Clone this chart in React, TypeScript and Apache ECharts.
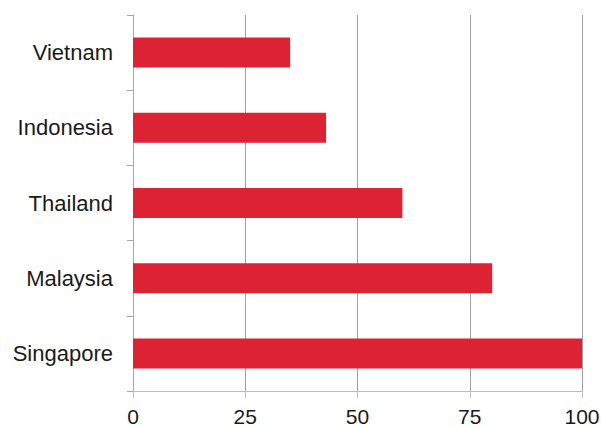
import React, { useEffect, useRef } from "react";
import * as echarts from "echarts";

const categories = ["Singapore", "Malaysia", "Thailand", "Indonesia", "Vietnam"];
const values = [100, 80, 60, 43, 35];
const xTicks = [0, 25, 50, 75, 100];

const FONT = "'Liberation Sans', Arial, sans-serif";

export default function App() {
  const ref = useRef<HTMLDivElement>(null);
  useEffect(() => {
    document.body.style.margin = "0";
    const chart = echarts.init(ref.current!, null, { renderer: "svg" });
    chart.setOption({
      animation: false,
      backgroundColor: "#ffffff",
      textStyle: { fontFamily: FONT },
      grid: { left: 133, right: 19, top: 15, bottom: 36, containLabel: false, outerBoundsMode: "none" },
      xAxis: {
        type: "value",
        min: xTicks[0],
        max: xTicks[xTicks.length - 1],
        interval: 25,
        axisLine: { show: true, lineStyle: { color: "#bdbdbd", width: 1 } },
        axisTick: { show: true, length: 7, lineStyle: { color: "#bdbdbd" } },
        splitLine: { show: true, lineStyle: { color: "#a0a0a0", width: 1 } },
        axisLabel: { fontSize: 21, lineHeight: 19, color: "#1a1a1a", margin: 16, fontFamily: FONT },
      },
      yAxis: {
        type: "category",
        data: categories,
        axisLine: { show: true, lineStyle: { color: "#a8a8a8", width: 1 } },
        axisTick: { show: true, length: 6, lineStyle: { color: "#a8a8a8" } },
        axisLabel: { fontSize: 22, color: "#1a1a1a", margin: 20, fontFamily: FONT },
        splitLine: { show: false },
      },
      series: [
        {
          type: "bar",
          data: values,
          barWidth: 30,
          itemStyle: { color: "#dc2233" },
        },
      ],
    });
    return () => chart.dispose();
  }, []);
  return <div ref={ref} style={{ width: 601, height: 427 }} />;
}
